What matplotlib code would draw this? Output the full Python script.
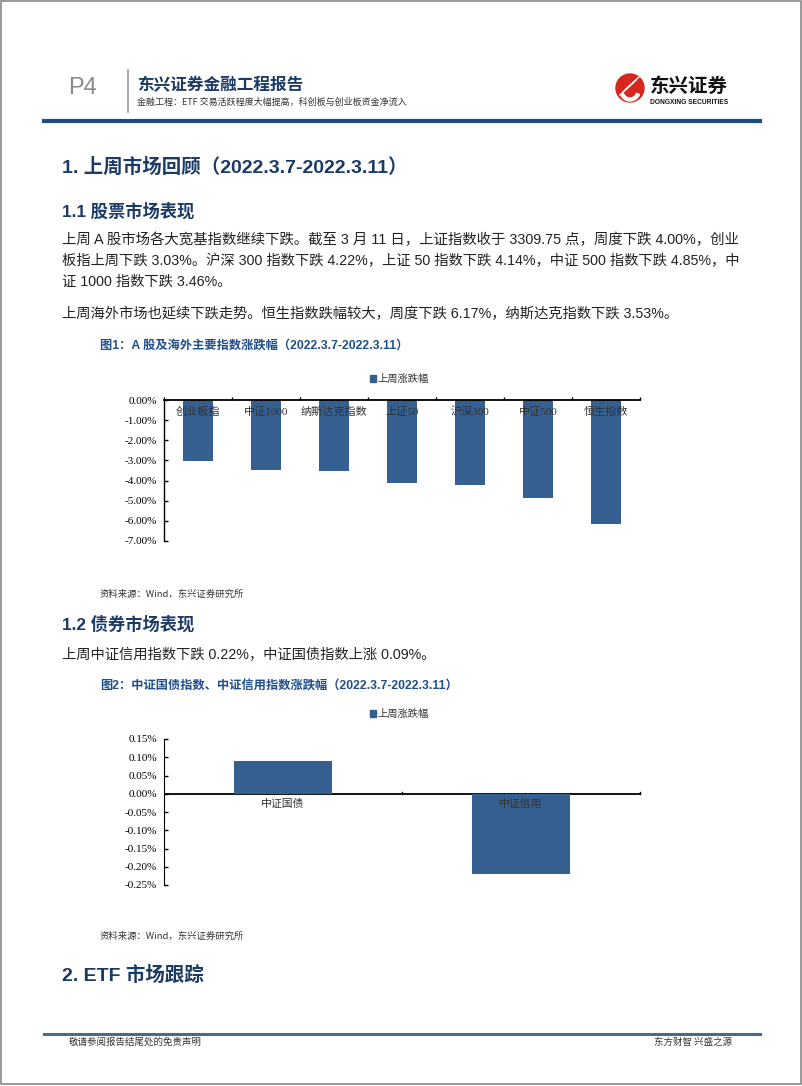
import numpy as np
import matplotlib
matplotlib.use("Agg")
from matplotlib import pyplot as plt
from matplotlib.patches import Rectangle, Circle, Wedge
from matplotlib.ticker import FuncFormatter, MultipleLocator

# data
stock_names = ["创业板指", "中证1000", "纳斯达克指数", "上证50", "沪深300", "中证500", "恒生指数"]
stock_chg = [-3.03, -3.46, -3.53, -4.14, -4.22, -4.85, -6.17]
bond_names = ["中证国债", "中证信用"]
bond_chg = [0.09, -0.22]
series_name = "上周涨跌幅"

W, H = 802, 1086
navy = "#1b3a66"
bar_c = "#355f91"
cjk = ["Noto Sans CJK SC", "DejaVu Sans"]
serif = ["Liberation Serif", "Noto Sans CJK SC"]
sans = ["Liberation Sans", "Noto Sans CJK SC"]

fig = plt.figure(figsize=(W / 100, H / 100), dpi=100)
bg = fig.add_axes([0, 0, 1, 1])
bg.set_xlim(0, W)
bg.set_ylim(H, 0)
bg.axis("off")


def txt(x, y, s, size, color="#222222", family=sans, weight="normal", ha="left", **kw):
    bg.text(x, y, s, fontsize=size, color=color, family=family, weight=weight,
            ha=ha, va="center", **kw)


def box(x0, y0, x1, y1):
    # pixel box -> figure fraction
    return [x0 / W, 1 - y1 / H, (x1 - x0) / W, (y1 - y0) / H]


# page frame
bg.add_patch(Rectangle((1, 1), W - 2, H - 3, fill=False, ec="#888888", lw=1.2))

# header
txt(68, 88, "P4", 17, color="#8a8a8a", family=["Liberation Sans"])
bg.plot([128, 128], [70, 112], color="#999999", lw=1.2)
txt(137, 85, "东兴证券金融工程报告", 12, color=navy, family=cjk, weight="bold")
txt(137, 102, "金融工程：ETF 交易活跃程度大幅提高，科创板与创业板资金净流入", 6.5, color="#333333", family=cjk)
# logo
bg.add_patch(Circle((630, 88), 14, color="#d7261e"))
bg.add_patch(Wedge((630, 91), 10, 20, 160, width=3, color="white"))
for k in range(3):
    bg.plot([620 + k * 3, 633 + k * 3], [95 - k * 3, 83 - k * 3], color="white", lw=1)
txt(650, 86, "东兴证券", 14, color="#111111", family=cjk, weight="bold")
txt(650, 102, "DONGXING SECURITIES", 4.8, color="#111111", family=["Liberation Sans"], weight="bold")
bg.plot([44, 760], [121, 121], color="#1f4e79", lw=3)

# section 1
txt(62, 167, "1. 上周市场回顾（2022.3.7-2022.3.11）", 14, color=navy, family=sans, weight="bold")
txt(62, 211, "1.1 股票市场表现", 12.4, color=navy, family=sans, weight="bold")
para = [
    (240, 10.4, "上周 A 股市场各大宽基指数继续下跌。截至 3 月 11 日，上证指数收于 3309.75 点，周度下跌 4.00%，创业"),
    (261, 10.3, "板指上周下跌 3.03%。沪深 300 指数下跌 4.22%，上证 50 指数下跌 4.14%，中证 500 指数下跌 4.85%，中"),
    (282, 10.3, "证 1000 指数下跌 3.46%。"),
    (314, 10.3, "上周海外市场也延续下跌走势。恒生指数跌幅较大，周度下跌 6.17%，纳斯达克指数下跌 3.53%。"),
]
for y, fs, s in para:
    txt(62, y, s, fs, family=sans)

txt(100, 346, "图1：A 股及海外主要指数涨跌幅（2022.3.7-2022.3.11）", 8.8, color="#1f4e8c", family=sans, weight="bold")

# chart 1
ax1 = fig.add_axes(box(164, 400, 640, 541))
x1 = np.arange(len(stock_names))
ax1.bar(x1, stock_chg, width=0.43, color=bar_c, zorder=2)
ax1.set_xlim(-0.5, len(stock_names) - 0.5)
ax1.set_ylim(-7, 0)
ax1.yaxis.set_major_locator(MultipleLocator(1))
ax1.yaxis.set_major_formatter(FuncFormatter(lambda v, p: "%.2f%%" % v))
for s in ["right", "bottom"]:
    ax1.spines[s].set_visible(False)
ax1.spines["top"].set_linewidth(1.3)
ax1.spines["left"].set_linewidth(1)
ax1.xaxis.tick_top()
ax1.set_xticks(np.arange(len(stock_names) + 1) - 0.5)
ax1.set_xticklabels([])
ax1.tick_params(axis="x", direction="out", length=2.5, top=True, bottom=False, width=1)
ax1.tick_params(axis="y", direction="in", length=3, width=1, labelsize=8, pad=5)
for lab in ax1.get_yticklabels():
    lab.set_family(serif)
for i, n in enumerate(stock_names):
    ax1.text(i, -0.33, n, ha="center", va="top", fontsize=8, family=serif,
             color="#333333", zorder=3)
ax1.patch.set_alpha(0)
bg.add_patch(Rectangle((370, 375), 6, 7, color=bar_c))
txt(377, 379, series_name, 7.4, color="#333333", family=serif)
txt(100, 594, "资料来源：Wind，东兴证券研究所", 6.75, color="#333333", family=cjk, style="italic")

# section 1.2
txt(62, 624, "1.2 债券市场表现", 12.4, color=navy, family=sans, weight="bold")
txt(62, 655, "上周中证信用指数下跌 0.22%，中证国债指数上涨 0.09%。", 10.3, family=sans)
txt(100, 686, "图2：中证国债指数、中证信用指数涨跌幅（2022.3.7-2022.3.11）", 8.8, color="#1f4e8c", family=sans, weight="bold")

# chart 2
ax2 = fig.add_axes(box(164, 739, 640, 885))
x2 = np.arange(len(bond_names))
ax2.bar(x2, bond_chg, width=0.41, color=bar_c, zorder=2)
ax2.set_xlim(-0.5, len(bond_names) - 0.5)
ax2.set_ylim(-0.25, 0.15)
ax2.yaxis.set_major_locator(MultipleLocator(0.05))
ax2.yaxis.set_major_formatter(FuncFormatter(lambda v, p: "%.2f%%" % v))
for s in ["right", "top", "bottom"]:
    ax2.spines[s].set_visible(False)
ax2.axhline(0, color="black", lw=1.3, zorder=1)
ax2.set_xticks([])
for xt in [0.5, 1.5]:
    ax2.plot([xt, xt], [0, 0.006], color="black", lw=1, clip_on=False)
ax2.tick_params(axis="y", direction="in", length=3, width=1, labelsize=8, pad=5)
for lab in ax2.get_yticklabels():
    lab.set_family(serif)
for i, n in enumerate(bond_names):
    ax2.text(i, -0.0135, n, ha="center", va="top", fontsize=7.8, family=serif,
             color="#333333", zorder=3)
ax2.patch.set_alpha(0)
bg.add_patch(Rectangle((370, 710), 6, 7, color=bar_c))
txt(377, 714, series_name, 7.4, color="#333333", family=serif)
txt(100, 936, "资料来源：Wind，东兴证券研究所", 6.75, color="#333333", family=cjk, style="italic")

txt(62, 975, "2. ETF 市场跟踪", 14, color=navy, family=sans, weight="bold")

# footer
bg.plot([44, 760], [1034, 1034], color="#4a6a8c", lw=2.2)
txt(69, 1042, "敬请参阅报告结尾处的免责声明", 6.8, color="#333333", family=cjk)
txt(732, 1042, "东方财智 兴盛之源", 6.8, color="#333333", family=cjk, ha="right")

fig.savefig("out.png", dpi=100)
